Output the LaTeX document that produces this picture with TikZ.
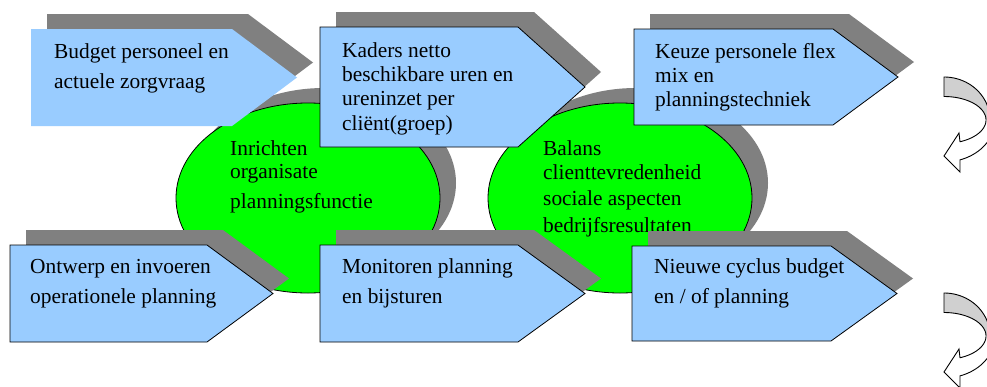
\documentclass[tikz,border=0pt]{standalone}
\usepackage{fontspec}
\setmainfont{Liberation Serif}
\definecolor{boxblue}{HTML}{99CCFF}
\definecolor{ellgreen}{HTML}{00FF00}
\definecolor{shadowgray}{HTML}{808080}
\definecolor{arrowgray}{HTML}{D0D0D0}
\newcommand\pentpath[5]{(#1,#2) -- ({#1+#4},#2) -- ({#1+#3},{#2+#5/2}) -- ({#1+#4},{#2+#5}) -- (#1,{#2+#5}) -- cycle}
\newcommand\curvedarrowpath{plot[domain=-90:0,samples=40] ({944+46*cos(\x)},{120+43*sin(\x)}) -- plot[domain=0:71.7,samples=40] ({944+51*cos(\x)},{120+42*sin(\x)}) -- (960,172) -- (944,156) -- (959,133) -- (960,142) -- plot[domain=67.6:0,samples=40] ({944+42*cos(\x)},{120+23.5*sin(\x)}) -- plot[domain=0:-90,samples=40] ({944+42*cos(\x)},{120+23.5*sin(\x)}) -- cycle}
\newcommand\curvedarrowtop{plot[domain=-90:0,samples=40] ({944+46*cos(\x)},{120+43*sin(\x)}) -- (986,120) -- plot[domain=0:-90,samples=40] ({944+42*cos(\x)},{120+23.5*sin(\x)}) -- cycle}
\begin{document}
\begin{tikzpicture}[x=1pt,y=-1pt,
  shadowfill/.style={fill=shadowgray},
  boxfill/.style={fill=boxblue,draw=black,line width=0.8pt},
  boxnoline/.style={fill=boxblue},
  ellfill/.style={fill=ellgreen,draw=black,line width=0.8pt},
  txt/.style={font=\fontsize{21.4}{30}\selectfont,inner sep=0pt,anchor=base west},
  txtb/.style={font=\fontsize{21.4}{24.4}\selectfont,inner sep=0pt,anchor=base west},
  arrowline/.style={draw=black,line width=0.9pt}]
\useasboundingbox (0,0) rectangle (987,386);
\clip (0,0) rectangle (987,386);
\fill[white] (0,0) rectangle (987,386);
% ellipses
\fill[shadowfill] (324,183) ellipse [x radius=132, y radius=95];
\fill[shadowfill] (636,183) ellipse [x radius=132, y radius=95];
\draw[ellfill] (308,198) ellipse [x radius=132, y radius=95];
\draw[ellfill] (620,198) ellipse [x radius=132, y radius=95];
\node[txt,font=\fontsize{21.4}{23}\selectfont] (e1) at (230,155) {\vtop{\hbox{Inrichten}\hbox{organisate}\vskip7pt\hbox{planningsfunctie}}};
\node[txt,font=\fontsize{21.4}{24}\selectfont] (e2) at (543,155) {\vtop{\hbox{Balans}\hbox{clienttevredenheid}\vskip2pt\hbox{sociale aspecten}\vskip3pt\hbox{bedrijfsresultaten}}};
% top row
\fill[shadowfill,shift={(16,-15)}] \pentpath{31}{29}{266}{201}{97};
\fill[boxnoline] \pentpath{31}{29}{266}{201}{97};
\node[txt] (b1) at (54,58) {\vtop{\hbox{Budget personeel en}\hbox{actuele zorgvraag}}};
\fill[shadowfill,shift={(16,-15)}] \pentpath{320}{27}{265}{198}{120};
\draw[boxfill] \pentpath{320}{27}{265}{198}{120};
\node[txtb] (b2) at (342,57) {\vtop{\hbox{Kaders netto}\hbox{beschikbare uren en}\hbox{ureninzet per}\hbox{cliënt(groep)}}};
\fill[shadowfill,shift={(16,-15)}] \pentpath{634}{29}{264}{199}{96};
\draw[boxfill] \pentpath{634}{29}{264}{199}{96};
\node[txtb] (b3) at (655,58) {\vtop{\hbox{Keuze personele flex}\hbox{mix en}\hbox{planningstechniek}}};
% bottom row
\fill[shadowfill,shift={(16,-15)}] \pentpath{10}{245}{263}{197}{97};
\draw[boxfill] \pentpath{10}{245}{263}{197}{97};
\node[txt] (b4) at (30,273) {\vtop{\hbox{Ontwerp en invoeren}\hbox{operationele planning}}};
\fill[shadowfill,shift={(16,-15)}] \pentpath{320}{245}{265}{198}{97};
\draw[boxfill] \pentpath{320}{245}{265}{198}{97};
\node[txt] (b5) at (342,273) {\vtop{\hbox{Monitoren planning}\hbox{en bijsturen}}};
\fill[shadowfill,shift={(16,-15)}] \pentpath{632}{246}{265}{199}{95};
\draw[boxfill] \pentpath{632}{246}{265}{199}{95};
\node[txt] (b6) at (654,273) {\vtop{\hbox{Nieuwe cyclus budget}\hbox{en / of planning}}};
% curved arrows
\foreach \oy in {0,216}{
  \begin{scope}[shift={(0,\oy)}]
    \fill[white] \curvedarrowpath;
    \fill[arrowgray] \curvedarrowtop;
    \draw[arrowline,line join=miter] \curvedarrowpath;
  \end{scope}
}
\end{tikzpicture}
\end{document}
